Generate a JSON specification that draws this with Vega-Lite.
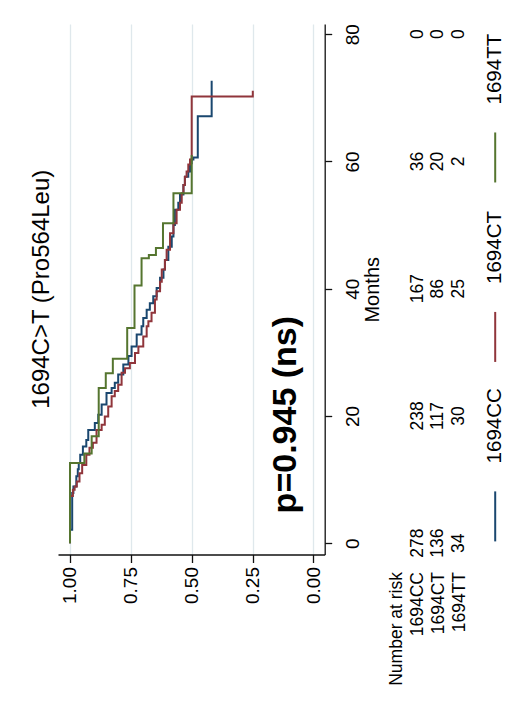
{
  "$schema": "https://vega.github.io/schema/vega-lite/v6.json",
  "background": "white",
  "padding": {"left": 29, "top": 23, "right": 0, "bottom": 0},
  "config": {
    "font": "Liberation Sans",
    "view": {"stroke": null},
    "concat": {"spacing": 3.6},
    "axis": {"labelColor": "black", "titleColor": "black", "domainColor": "#111", "tickColor": "#111", "domainWidth": 1.3, "tickWidth": 1.3}
  },
  "datasets": {
    "km": [
      {"group": "1694CC", "month": 0, "surv": 1.0},
      {"group": "1694CC", "month": 2.1, "surv": 0.991},
      {"group": "1694CC", "month": 7.9, "surv": 0.986},
      {"group": "1694CC", "month": 8.9, "surv": 0.974},
      {"group": "1694CC", "month": 10.5, "surv": 0.968},
      {"group": "1694CC", "month": 11.6, "surv": 0.964},
      {"group": "1694CC", "month": 12.6, "surv": 0.958},
      {"group": "1694CC", "month": 13.9, "surv": 0.947},
      {"group": "1694CC", "month": 15.2, "surv": 0.933},
      {"group": "1694CC", "month": 16.2, "surv": 0.925},
      {"group": "1694CC", "month": 17.8, "surv": 0.898},
      {"group": "1694CC", "month": 18.9, "surv": 0.884},
      {"group": "1694CC", "month": 20.2, "surv": 0.87},
      {"group": "1694CC", "month": 21.8, "surv": 0.85},
      {"group": "1694CC", "month": 23.6, "surv": 0.829},
      {"group": "1694CC", "month": 24.4, "surv": 0.816},
      {"group": "1694CC", "month": 25.2, "surv": 0.802},
      {"group": "1694CC", "month": 26.5, "surv": 0.781},
      {"group": "1694CC", "month": 28.1, "surv": 0.76},
      {"group": "1694CC", "month": 29.4, "surv": 0.747},
      {"group": "1694CC", "month": 30.9, "surv": 0.726},
      {"group": "1694CC", "month": 32.8, "surv": 0.706},
      {"group": "1694CC", "month": 34.1, "surv": 0.699},
      {"group": "1694CC", "month": 35.4, "surv": 0.685},
      {"group": "1694CC", "month": 36.7, "surv": 0.672},
      {"group": "1694CC", "month": 37.7, "surv": 0.658},
      {"group": "1694CC", "month": 38.8, "surv": 0.644},
      {"group": "1694CC", "month": 40.1, "surv": 0.63},
      {"group": "1694CC", "month": 41.7, "surv": 0.616},
      {"group": "1694CC", "month": 43.0, "surv": 0.61},
      {"group": "1694CC", "month": 44.5, "surv": 0.596},
      {"group": "1694CC", "month": 46.6, "surv": 0.582},
      {"group": "1694CC", "month": 48.2, "surv": 0.575},
      {"group": "1694CC", "month": 50.0, "surv": 0.569},
      {"group": "1694CC", "month": 52.4, "surv": 0.555},
      {"group": "1694CC", "month": 53.5, "surv": 0.548},
      {"group": "1694CC", "month": 54.8, "surv": 0.534},
      {"group": "1694CC", "month": 56.3, "surv": 0.528},
      {"group": "1694CC", "month": 57.6, "surv": 0.514},
      {"group": "1694CC", "month": 58.4, "surv": 0.507},
      {"group": "1694CC", "month": 59.7, "surv": 0.5},
      {"group": "1694CC", "month": 60.3, "surv": 0.493},
      {"group": "1694CC", "month": 60.6, "surv": 0.475},
      {"group": "1694CC", "month": 67.1, "surv": 0.418},
      {"group": "1694CC", "month": 72.7, "surv": 0.418},
      {"group": "1694CT", "month": 0, "surv": 1.0},
      {"group": "1694CT", "month": 7.4, "surv": 0.988},
      {"group": "1694CT", "month": 8.4, "surv": 0.981},
      {"group": "1694CT", "month": 8.9, "surv": 0.972},
      {"group": "1694CT", "month": 9.7, "surv": 0.961},
      {"group": "1694CT", "month": 11.0, "surv": 0.95},
      {"group": "1694CT", "month": 12.3, "surv": 0.933},
      {"group": "1694CT", "month": 13.9, "surv": 0.92},
      {"group": "1694CT", "month": 15.0, "surv": 0.906},
      {"group": "1694CT", "month": 15.8, "surv": 0.891},
      {"group": "1694CT", "month": 17.8, "surv": 0.87},
      {"group": "1694CT", "month": 18.6, "surv": 0.857},
      {"group": "1694CT", "month": 19.9, "surv": 0.843},
      {"group": "1694CT", "month": 21.5, "surv": 0.829},
      {"group": "1694CT", "month": 23.1, "surv": 0.816},
      {"group": "1694CT", "month": 23.9, "surv": 0.802},
      {"group": "1694CT", "month": 24.9, "surv": 0.788},
      {"group": "1694CT", "month": 26.8, "surv": 0.774},
      {"group": "1694CT", "month": 27.5, "surv": 0.754},
      {"group": "1694CT", "month": 28.3, "surv": 0.733},
      {"group": "1694CT", "month": 29.9, "surv": 0.719},
      {"group": "1694CT", "month": 30.9, "surv": 0.699},
      {"group": "1694CT", "month": 32.5, "surv": 0.685},
      {"group": "1694CT", "month": 34.1, "surv": 0.678},
      {"group": "1694CT", "month": 34.9, "surv": 0.665},
      {"group": "1694CT", "month": 36.2, "surv": 0.651},
      {"group": "1694CT", "month": 38.3, "surv": 0.644},
      {"group": "1694CT", "month": 39.6, "surv": 0.63},
      {"group": "1694CT", "month": 41.1, "surv": 0.623},
      {"group": "1694CT", "month": 43.0, "surv": 0.61},
      {"group": "1694CT", "month": 44.5, "surv": 0.603},
      {"group": "1694CT", "month": 46.1, "surv": 0.589},
      {"group": "1694CT", "month": 48.7, "surv": 0.575},
      {"group": "1694CT", "month": 50.3, "surv": 0.562},
      {"group": "1694CT", "month": 52.4, "surv": 0.548},
      {"group": "1694CT", "month": 53.5, "surv": 0.541},
      {"group": "1694CT", "month": 55.0, "surv": 0.534},
      {"group": "1694CT", "month": 56.3, "surv": 0.528},
      {"group": "1694CT", "month": 57.6, "surv": 0.521},
      {"group": "1694CT", "month": 58.4, "surv": 0.514},
      {"group": "1694CT", "month": 59.5, "surv": 0.507},
      {"group": "1694CT", "month": 60.3, "surv": 0.5},
      {"group": "1694CT", "month": 70.2, "surv": 0.249},
      {"group": "1694CT", "month": 71.1, "surv": 0.249},
      {"group": "1694TT", "month": 0, "surv": 1.0},
      {"group": "1694TT", "month": 12.6, "surv": 0.941},
      {"group": "1694TT", "month": 14.1, "surv": 0.911},
      {"group": "1694TT", "month": 16.8, "surv": 0.882},
      {"group": "1694TT", "month": 24.4, "surv": 0.853},
      {"group": "1694TT", "month": 26.7, "surv": 0.824},
      {"group": "1694TT", "month": 29.0, "surv": 0.765},
      {"group": "1694TT", "month": 33.8, "surv": 0.735},
      {"group": "1694TT", "month": 40.5, "surv": 0.706},
      {"group": "1694TT", "month": 44.8, "surv": 0.676},
      {"group": "1694TT", "month": 45.3, "surv": 0.647},
      {"group": "1694TT", "month": 46.4, "surv": 0.618},
      {"group": "1694TT", "month": 50.3, "surv": 0.575},
      {"group": "1694TT", "month": 55.0, "surv": 0.5},
      {"group": "1694TT", "month": 61.0, "surv": 0.5}
    ],
    "ptext": [
      {"label": "p=0.945 (ns)", "surv": 0.112, "month": 20.2}
    ],
    "risk": [
      {"group": "1694CC", "month": 0, "n": 278},
      {"group": "1694CC", "month": 20, "n": 238},
      {"group": "1694CC", "month": 40, "n": 167},
      {"group": "1694CC", "month": 60, "n": 36},
      {"group": "1694CC", "month": 80, "n": 0},
      {"group": "1694CT", "month": 0, "n": 136},
      {"group": "1694CT", "month": 20, "n": 117},
      {"group": "1694CT", "month": 40, "n": 86},
      {"group": "1694CT", "month": 60, "n": 20},
      {"group": "1694CT", "month": 80, "n": 0},
      {"group": "1694TT", "month": 0, "n": 34},
      {"group": "1694TT", "month": 20, "n": 30},
      {"group": "1694TT", "month": 40, "n": 25},
      {"group": "1694TT", "month": 60, "n": 2},
      {"group": "1694TT", "month": 80, "n": 0}
    ],
    "legend": [
      {"group": "1694CC"},
      {"group": "1694CT"},
      {"group": "1694TT"}
    ]
  },
  "hconcat": [
    {
      "title": {"text": "1694C>T (Pro564Leu)", "orient": "left", "anchor": "middle", "fontSize": 24, "fontWeight": "normal", "offset": 4, "color": "black"},
      "width": 266.7,
      "height": 530.5,
      "layer": [
        {
          "data": {"name": "km"},
          "mark": {"type": "line", "interpolate": "step-before", "strokeWidth": 2},
          "encoding": {
            "x": {
              "field": "surv", "type": "quantitative",
              "scale": {"domain": [-0.0464, 1.0493], "reverse": true, "nice": false, "zero": false},
              "axis": {"orient": "bottom", "title": null, "values": [0, 0.25, 0.5, 0.75, 1], "format": ".2f", "labelAngle": 270, "labelAlign": "right", "labelBaseline": "middle", "labelFontSize": 19, "labelPadding": 4, "tickSize": 8, "grid": true, "gridColor": "#dfe8ec", "gridWidth": 1.3, "labelOverlap": false}
            },
            "y": {
              "field": "month", "type": "quantitative",
              "scale": {"domain": [-1.78, 81.6], "nice": false, "zero": false},
              "axis": {"orient": "right", "title": "Months", "values": [0, 20, 40, 60, 80], "labelAngle": 270, "labelAlign": "center", "labelBaseline": "top", "labelFontSize": 19, "labelPadding": 12, "tickSize": 7, "grid": false, "titleAngle": 270, "titleBaseline": "top", "titleAlign": "center", "titleFontSize": 20, "titleFontWeight": "normal", "titlePadding": 0, "labelOverlap": false}
            },
            "color": {
              "field": "group", "type": "nominal",
              "scale": {"domain": ["1694CC", "1694CT", "1694TT"], "range": ["#1a476f", "#90353b", "#55752f"]},
              "legend": null
            },
            "order": {"field": "month", "type": "quantitative"}
          }
        },
        {
          "data": {"name": "ptext"},
          "mark": {"type": "text", "angle": 270, "align": "center", "baseline": "middle", "fontSize": 34, "fontWeight": "bold", "color": "black"},
          "encoding": {
            "x": {"field": "surv", "type": "quantitative"},
            "y": {"field": "month", "type": "quantitative"},
            "text": {"field": "label", "type": "nominal"}
          }
        }
      ]
    },
    {
      "width": 82.8,
      "height": 530.5,
      "data": {"name": "risk"},
      "mark": {"type": "text", "angle": 270, "align": "center", "baseline": "middle", "fontSize": 17.5, "color": "black"},
      "encoding": {
        "x": {
          "field": "group", "type": "nominal",
          "scale": {"type": "point", "domain": ["Number at risk", "1694CC", "1694CT", "1694TT"], "padding": 0.5},
          "axis": {"orient": "bottom", "title": null, "labelAngle": 270, "labelAlign": "right", "labelBaseline": "middle", "labelPadding": 17, "labelFontSize": 17.5, "domain": false, "ticks": false, "grid": false, "labelOverlap": false, "labelLimit": 300}
        },
        "y": {
          "field": "month", "type": "quantitative",
          "scale": {"domain": [-1.78, 81.6], "nice": false, "zero": false},
          "axis": null
        },
        "text": {"field": "n", "type": "quantitative"}
      }
    },
    {
      "width": 44,
      "height": 530.5,
      "data": {"name": "legend"},
      "layer": [
        {
          "mark": {"type": "rule", "strokeWidth": 2, "yOffset": 28, "y2Offset": 78},
          "encoding": {
            "y": {"field": "group", "type": "nominal", "scale": {"type": "point", "domain": ["1694TT", "1694CT", "1694CC"], "padding": 0.478, "align": 0.469}, "axis": null},
            "y2": {"field": "group"},
            "color": {
              "field": "group", "type": "nominal",
              "scale": {"domain": ["1694CC", "1694CT", "1694TT"], "range": ["#1a476f", "#90353b", "#55752f"]},
              "legend": null
            }
          }
        },
        {
          "mark": {"type": "text", "angle": 270, "align": "left", "baseline": "middle", "fontSize": 20.5, "color": "black"},
          "encoding": {
            "y": {"field": "group", "type": "nominal", "scale": {"type": "point", "domain": ["1694TT", "1694CT", "1694CC"], "padding": 0.478, "align": 0.469}, "axis": null},
            "text": {"field": "group", "type": "nominal"}
          }
        }
      ]
    }
  ]
}
